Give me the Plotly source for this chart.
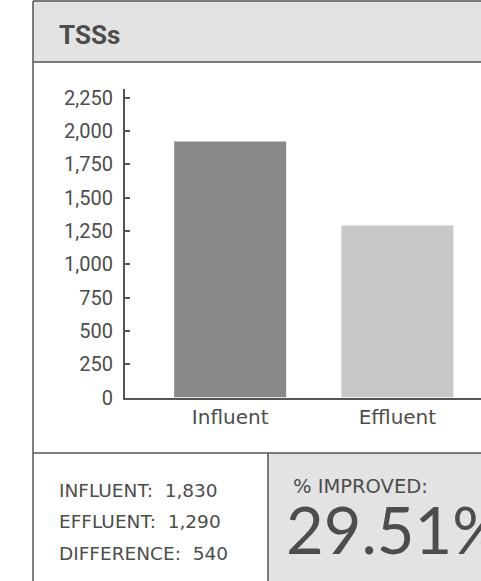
import plotly.graph_objects as go

categories = ["Influent", "Effluent"]
values = [1920, 1290]
bar_colors = ["#878887", "#c8c8c8"]
y_tickvals = [0, 250, 500, 750, 1000, 1250, 1500, 1750, 2000, 2250]
y_ticktext = ["0", "250", "500", "750", "1,000", "1,250", "1,500", "1,750", "2,000", "2,250"]
title_text = "TSSs"
summary_lines = ["INFLUENT:  1,830", "EFFLUENT:  1,290", "DIFFERENCE:  540"]
improved_label = "% IMPROVED:"
improved_value = "29.51%"

W, H = 481, 581
def px(x):
    return x / W
def py(y):
    return 1 - y / H

TXT = "#4d4d4d"
LINE = "#555555"
GEO = "'DejaVu Sans', sans-serif"

fig = go.Figure()
fig.add_trace(go.Bar(x=categories, y=values, marker=dict(color=bar_colors, line=dict(width=0)),
                     width=0.67, hoverinfo="skip"))
# big percentage, clipped to the right-hand panel like the original
fig.add_trace(go.Scatter(x=[286], y=[538], mode="text", text=[improved_value],
                         textposition="middle right", cliponaxis=True, hoverinfo="skip",
                         textfont=dict(family="Lato, sans-serif", size=65, color=TXT),
                         xaxis="x2", yaxis="y2"))

shapes = [
    dict(type="rect", xref="paper", yref="paper", x0=px(33), x1=1, y0=py(62), y1=py(1),
         fillcolor="#e3e3e3", line=dict(width=0), layer="below"),
    dict(type="rect", xref="paper", yref="paper", x0=px(268), x1=1, y0=0, y1=py(453),
         fillcolor="#e3e3e3", line=dict(width=0), layer="below"),
    dict(type="line", xref="paper", yref="paper", x0=px(33), x1=1, y0=py(1), y1=py(1),
         line=dict(color=LINE, width=1.5)),
    dict(type="line", xref="paper", yref="paper", x0=px(33), x1=px(33), y0=py(1), y1=0,
         line=dict(color=LINE, width=1.5)),
    dict(type="line", xref="paper", yref="paper", x0=px(33), x1=1, y0=py(62), y1=py(62),
         line=dict(color=LINE, width=1.5)),
    dict(type="line", xref="paper", yref="paper", x0=px(33), x1=1, y0=py(453), y1=py(453),
         line=dict(color=LINE, width=1.5)),
    dict(type="line", xref="paper", yref="paper", x0=px(268), x1=px(268), y0=py(453), y1=0,
         line=dict(color=LINE, width=1.5)),
]
annotations = [
    dict(text="<b>" + title_text + "</b>", xref="paper", yref="paper", x=px(57), y=py(35),
         xanchor="left", yanchor="middle", showarrow=False,
         font=dict(family="Roboto, sans-serif", size=26, color=TXT)),
]
for i, line in enumerate(summary_lines):
    annotations.append(dict(text=line, xref="paper", yref="paper", x=px(57), y=py(490 + i * 31.5),
                            xanchor="left", yanchor="middle", showarrow=False,
                            font=dict(family=GEO, size=18.5, color=TXT)))
annotations.append(dict(text=improved_label, xref="paper", yref="paper", x=px(291), y=py(486),
                        xanchor="left", yanchor="middle", showarrow=False,
                        font=dict(family=GEO, size=19.5, color=TXT)))

fig.update_layout(
    width=W, height=H, margin=dict(l=0, r=0, t=0, b=0, pad=0, autoexpand=False),
    paper_bgcolor="white", plot_bgcolor="rgba(0,0,0,0)", showlegend=False,
    shapes=shapes, annotations=annotations,
    xaxis=dict(domain=[px(125), 1], range=[-0.629, 1.5], showgrid=False, zeroline=False,
               showline=True, linecolor=LINE, linewidth=2, ticks="", automargin=False,
               tickfont=dict(family=GEO, size=20, color=TXT), fixedrange=True),
    yaxis=dict(domain=[py(397.5), py(89)], range=[0, 2314], showgrid=False, zeroline=False,
               showline=True, linecolor=LINE, linewidth=2, ticks="inside", ticklen=5,
               tickwidth=1.5, tickcolor=LINE, tickvals=y_tickvals, ticktext=y_ticktext,
               ticklabelstandoff=6, automargin=False,
               tickfont=dict(family="Roboto, sans-serif", size=20, color=TXT), fixedrange=True),
    xaxis2=dict(domain=[px(269), 1], range=[269, 481], visible=False, fixedrange=True, automargin=False),
    yaxis2=dict(domain=[0, py(454)], range=[581, 454], visible=False, fixedrange=True, automargin=False),
)

fig.write_html("out.html", config={"displayModeBar": False},
               post_script="document.documentElement.style.margin='0';document.body.style.margin='0';"
                           "document.documentElement.style.overflow='hidden';document.body.style.overflow='hidden';")
